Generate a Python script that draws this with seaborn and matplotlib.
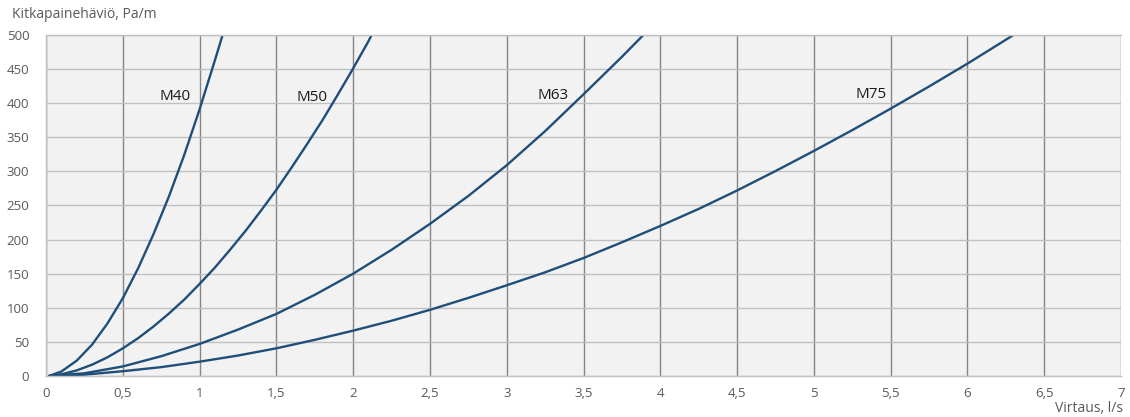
import numpy as np
import pandas as pd
import matplotlib
matplotlib.use("Agg")
import matplotlib.pyplot as plt
import seaborn as sns

# Data (flow l/s -> friction loss Pa/m)
m40_x = [0.02, 0.1, 0.2, 0.3, 0.4, 0.5, 0.6, 0.7, 0.8, 0.9, 1.0, 1.1, 1.15]
m40_y = [0, 6.6, 22.5, 46, 77, 114, 158, 208, 263, 324, 391, 463, 500]
m50_x = [0.02, 0.1, 0.2, 0.3, 0.4, 0.5, 0.6, 0.7, 0.8, 0.9, 1.0, 1.1, 1.2,
         1.3, 1.4, 1.5, 1.6, 1.7, 1.8, 1.9, 2.0, 2.1, 2.12]
m50_y = [0, 2.5, 8.2, 16.6, 27.4, 40.5, 55.5, 72.6, 91.5, 112, 135, 159, 185.5,
         213, 242.5, 273, 306, 340, 375, 412.5, 451, 491, 500]
m63_x = [0.02, 0.25, 0.5, 0.75, 1.0, 1.25, 1.5, 1.75, 2.0, 2.25, 2.5, 2.75,
         3.0, 3.25, 3.5, 3.75, 3.89]
m63_y = [0, 4, 14, 29, 47, 68, 91, 119, 150, 185, 223, 264,
         309, 359, 413, 468, 500]
m75_x = [0.02, 0.25, 0.5, 0.75, 1.0, 1.25, 1.5, 1.75, 2.0, 2.25, 2.5, 2.75,
         3.0, 3.25, 3.5, 3.75, 4.0, 4.25, 4.5, 4.75, 5.0, 5.25, 5.5, 5.75,
         6.0, 6.25, 6.3]
m75_y = [0, 2, 7, 13, 21, 30, 40.6, 53, 66.5, 81, 97, 114.5,
         133, 152, 173, 196, 220, 245, 272, 300.5, 330, 360.5, 392, 424.5,
         458, 493, 500]
series_names = ["M40", "M50", "M63", "M75"]
label_x = [0.84, 1.73, 3.30, 5.37]
label_y = [410, 409, 412, 413]
x_ticks = [0, 0.5, 1, 1.5, 2, 2.5, 3, 3.5, 4, 4.5, 5, 5.5, 6, 6.5, 7]
y_ticks = [0, 50, 100, 150, 200, 250, 300, 350, 400, 450, 500]

frames = []
for name, xs, ys in zip(series_names,
                        [m40_x, m50_x, m63_x, m75_x],
                        [m40_y, m50_y, m63_y, m75_y]):
    frames.append(pd.DataFrame({"x": xs, "y": ys, "s": name}))
df = pd.concat(frames, ignore_index=True)

sns.set_theme(style="whitegrid")
plt.rcParams["font.family"] = ["Open Sans", "DejaVu Sans"]

fig = plt.figure(figsize=(11.3, 4.17), dpi=100)
ax = fig.add_axes([46/1130, 1-376/417, (1121-46)/1130, (376-35)/417])
ax.set_facecolor("#f2f2f2")

line_color = "#1f4e79"
sns.lineplot(data=df, x="x", y="y", hue="s", palette=[line_color]*4,
             legend=False, ax=ax, linewidth=1.7, sort=False, estimator=None,
             solid_joinstyle="round", solid_capstyle="round")

for name, lx, ly in zip(series_names, label_x, label_y):
    ax.text(lx, ly, name, ha="center", va="center", fontsize=11, color="#1a1a1a")

ax.set_xlim(0, 7)
ax.set_ylim(0, 500)
ax.set_xticks(x_ticks)
ax.set_xticklabels([str(t).replace(".", ",") if t % 1 else str(int(t)) for t in x_ticks])
ax.set_yticks(y_ticks)
ax.xaxis.grid(True, color="#858585", linewidth=1)
ax.yaxis.grid(True, color="#c0c0c0", linewidth=1)
ax.set_axisbelow(True)
ax.spines["right"].set_visible(False)
for side in ["left", "bottom", "top"]:
    ax.spines[side].set_color("#c0c0c0")
    ax.spines[side].set_linewidth(1)
ax.tick_params(axis="both", labelsize=9.5, colors="#595959", length=0, pad=8)
ax.tick_params(axis="y", pad=12)
ax.set_xlabel("")
ax.set_ylabel("")

fig.text(12/1130, 1-15/417, "Kitkapainehäviö, Pa/m", ha="left", va="center",
         fontsize=10, color="#595959")
fig.text(1123/1130, 1-409/417, "Virtaus, l/s", ha="right", va="center",
         fontsize=10, color="#595959")

fig.savefig("out.png", dpi=100)
